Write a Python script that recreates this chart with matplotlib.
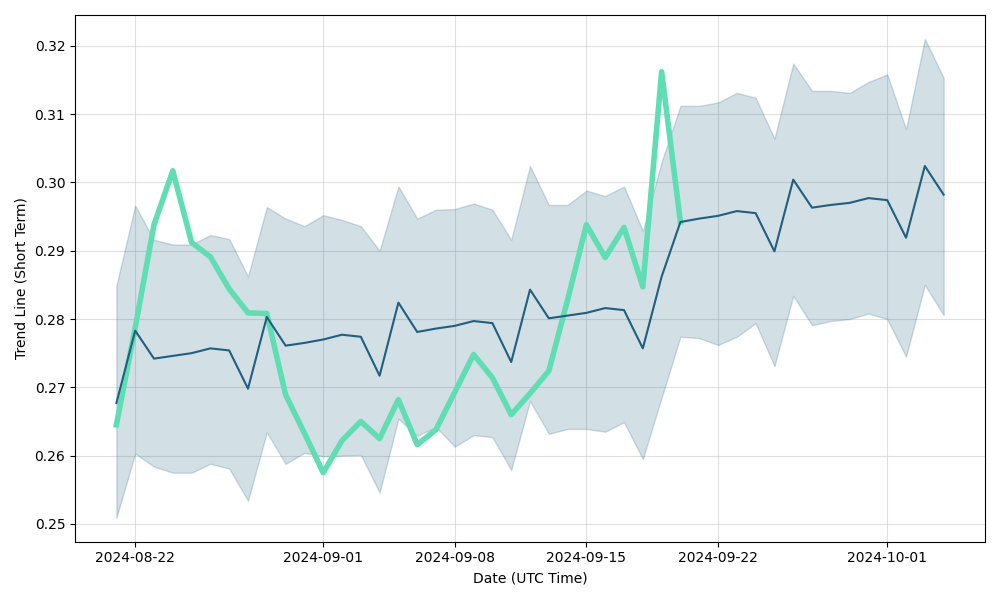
import matplotlib
matplotlib.use("Agg")
import matplotlib.pyplot as plt
import matplotlib.dates as mdates
import numpy as np
import pandas as pd

dates = pd.date_range("2024-08-21", "2024-10-04", freq="D")

trend = [0.2677, 0.2783, 0.2742, 0.2746, 0.2750, 0.2757, 0.2754, 0.2698, 0.2803, 0.2761,
         0.2765, 0.2770, 0.2777, 0.2774, 0.2717, 0.2824, 0.2781, 0.2786, 0.2790, 0.2797,
         0.2794, 0.2737, 0.2843, 0.2801, 0.2805, 0.2809, 0.2816, 0.2813, 0.2757, 0.2862,
         0.2942, 0.2947, 0.2951, 0.2958, 0.2955, 0.2899, 0.3004, 0.2963, 0.2967, 0.2970,
         0.2977, 0.2974, 0.2919, 0.3024, 0.2982]

upper = [0.2849, 0.2966, 0.2916, 0.2909, 0.2909, 0.2923, 0.2917, 0.2862, 0.2964, 0.2947,
         0.2936, 0.2952, 0.2945, 0.2936, 0.2900, 0.2994, 0.2947, 0.2960, 0.2961, 0.2969,
         0.2960, 0.2916, 0.3024, 0.2967, 0.2967, 0.2988, 0.2980, 0.2994, 0.2929, 0.3030,
         0.3112, 0.3112, 0.3117, 0.3131, 0.3124, 0.3064, 0.3174, 0.3134, 0.3134, 0.3131,
         0.3147, 0.3158, 0.3078, 0.3210, 0.3153]

lower = [0.2509, 0.2603, 0.2584, 0.2575, 0.2575, 0.2588, 0.2581, 0.2534, 0.2634, 0.2588,
         0.2604, 0.2599, 0.2600, 0.2601, 0.2546, 0.2654, 0.2629, 0.2642, 0.2613, 0.2630,
         0.2627, 0.2579, 0.2680, 0.2632, 0.2639, 0.2639, 0.2635, 0.2649, 0.2595, 0.2685,
         0.2774, 0.2772, 0.2762, 0.2774, 0.2794, 0.2731, 0.2834, 0.2791, 0.2797, 0.2800,
         0.2808, 0.2800, 0.2745, 0.2850, 0.2806]

price = [0.2645, 0.2787, 0.2938, 0.3017, 0.2912, 0.2891, 0.2844, 0.2809, 0.2808, 0.2689,
         0.2633, 0.2575, 0.2622, 0.2650, 0.2625, 0.2682, 0.2616, 0.2638, 0.2693, 0.2748,
         0.2714, 0.2660, 0.2691, 0.2724, 0.2828, 0.2938, 0.2890, 0.2934, 0.2847, 0.3162,
         0.2942]

dark = "#1f5f80"
green = "#5fdeb4"

fig, ax = plt.subplots(figsize=(10, 6), dpi=100)
ax.fill_between(dates, lower, upper, color=dark, alpha=0.2)
ax.plot(dates[:len(price)], price, color=green, lw=4)
ax.plot(dates, trend, color=dark, lw=1.5)
ax.grid(True, color="#cccccc", alpha=0.6)
ax.set_axisbelow(True)
ax.yaxis.set_major_formatter(matplotlib.ticker.FormatStrFormatter("%.2f"))
ax.set_xlabel("Date (UTC Time)")
ax.set_ylabel("Trend Line (Short Term)")
ax.xaxis.set_major_formatter(mdates.DateFormatter("%Y-%m-%d"))
fig.tight_layout()
fig.savefig("out.png")
